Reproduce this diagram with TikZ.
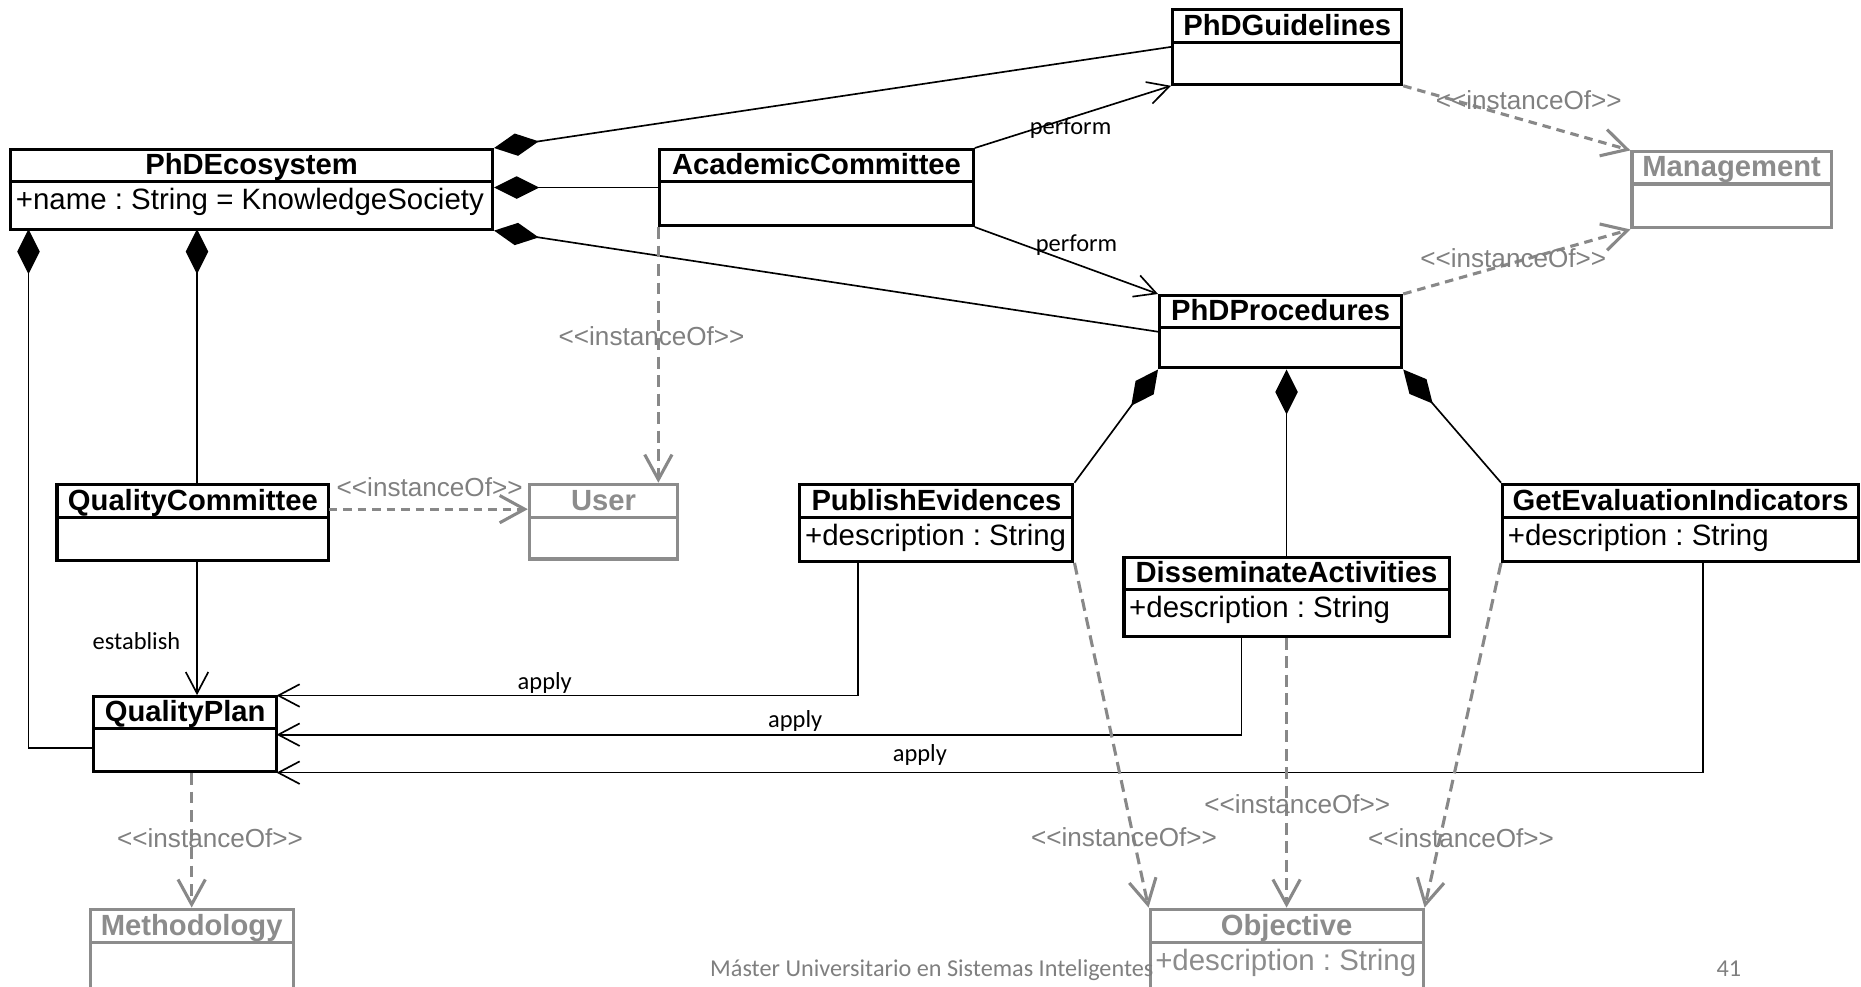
\documentclass[tikz,border=0pt]{standalone}
\usepackage{fontspec}
\setmainfont{Liberation Sans}
\newfontfamily\gillfont{Carlito}
\newfontfamily\ioffont{Liberation Sans}[Ligatures=TeXOff]
\usetikzlibrary{arrows.meta,fit,calc}
\definecolor{boxgray}{HTML}{8C8C8C}
\definecolor{dashgray}{HTML}{888888}
\definecolor{labelgray}{HTML}{808080}
\definecolor{footgray}{HTML}{7F7F7F}
\frenchspacing
\tikzset{
  classbox/.style={rectangle, inner sep=0pt, line width=1.3pt},
  sepline/.style={line width=1.3pt},
  titletext/.style={font=\bfseries\fontsize{12.3}{14}\selectfont, anchor=base, inner sep=0pt},
  attrtext/.style={font=\fontsize{12.4}{14}\selectfont, anchor=base west, inner sep=0pt},
  comp/.style={draw=black, line width=0.7pt, {Diamond[length=19pt,width=9.5pt]}-},
  assoc/.style={draw=black, line width=0.7pt, -{Straight Barb[length=9pt,width=9.5pt]}},
  inst/.style={draw=dashgray, line width=1.3pt, dash pattern=on 5pt off 2.8pt, -{Straight Barb[length=10.5pt,width=11.5pt]}},
  insts/.style={inst, dash pattern=on 3.6pt off 2.5pt},
  lbl/.style={font=\gillfont\fontsize{10.3}{12}\selectfont, anchor=base, inner sep=0pt},
  ioflbl/.style={font=\ioffont\fontsize{11}{13}\selectfont, text=labelgray, anchor=base, inner sep=0pt},
  footer/.style={font=\gillfont\fontsize{10.2}{12}\selectfont, text=footgray, anchor=base west, inner sep=0pt}
}
\newcommand\umlclass[8][black]{%
  \node[classbox, draw=#1, fit={(#3,#4) (#5,#7)}] (#2) {};
  \draw[sepline, draw=#1] (#3,#6) -- (#5,#6);
  \node[titletext, text=#1] (#2-title) at ({(#3+#5)/2},{#6-6}) {#8};
}
\newcommand\umlattr[5][black]{%
  \node[attrtext, text=#1] (#2) at ({#3+4},{#4+23.5}) {#5};
}
\newcommand\iof{<<instanceOf>>}
\begin{document}
\begin{tikzpicture}[x=0.5pt,y=-0.5pt]
\useasboundingbox (0,0) rectangle (1568,831);
% classes
\umlclass{guide}{988}{8}{1181}{36}{71}{PhDGuidelines}
\umlclass[boxgray]{mgmt}{1375}{128}{1543}{155}{192}{Management}
\umlclass{eco}{9}{126}{415}{153}{193}{PhDEcosystem}
\umlattr{eco-attr}{9}{153}{+name : String = KnowledgeSociety}
\umlclass{acad}{556}{126}{820}{153}{190}{AcademicCommittee}
\umlclass{proc}{977}{249}{1181}{276}{310}{PhDProcedures}
\umlclass{qc}{48}{408}{277}{436}{472}{QualityCommittee}
\umlclass[boxgray]{user}{446}{408}{571}{436}{471}{User}
\umlclass{pub}{674}{408}{904}{436}{473}{PublishEvidences}
\umlattr{pub-attr}{674}{436}{+description : String}
\umlclass{gei}{1266}{408}{1566}{436}{473}{GetEvaluationIndicators}
\umlattr{gei-attr}{1266}{436}{+description : String}
\umlclass{dis}{947}{470}{1221}{497}{536}{DisseminateActivities}
\umlattr{dis-attr}{947}{497}{+description : String}
\umlclass{qp}{79}{587}{233}{614}{650}{QualityPlan}
\umlclass[boxgray]{meth}{76}{766}{247}{794}{870}{Methodology}
\umlclass[boxgray]{obj}{969}{766}{1199}{794}{870}{Objective}
\umlattr[boxgray]{obj-attr}{969}{794}{+description : String}
% helper coordinates
\coordinate (ecoL) at (24,193);
\coordinate (qpL) at (79,630);
\coordinate (ecoQ) at (166,193);
\coordinate (qcR) at (277,429);
\coordinate (pubB) at (723,473);
\coordinate (disB) at (1046,536);
\coordinate (geiB) at (1435,473);
\coordinate (qpA1) at (233,586);
\coordinate (qpA2) at (233,619);
\coordinate (qpA3) at (233,651);
% compositions
\draw[comp] (eco.north east) -- (guide.west);
\draw[comp] (eco.east |- acad.west) -- (acad.west);
\draw[comp] (eco.south east) -- (proc.west);
\draw[comp] (ecoL) |- (qpL);
\draw[comp] (ecoQ) -- (ecoQ |- qc.north);
\draw[comp] (proc.south west) -- (pub.north east);
\draw[comp] (dis.north |- proc.south) -- (dis.north);
\draw[comp] (proc.south east) -- (gei.north west);
% associations
\draw[assoc] (acad.north east) -- (guide.south west);
\draw[assoc] (acad.south east) -- (proc.north west);
\draw[assoc] (ecoQ |- qc.south) -- (ecoQ |- qp.north);
\draw[assoc] (pubB) |- (qpA1);
\draw[assoc] (disB) |- (qpA2);
\draw[assoc] (geiB) |- (qpA3);
% instanceOf
\draw[inst] (acad.south west) -- (acad.south west |- user.north);
\draw[insts] (guide.south east) -- (mgmt.north west);
\draw[insts] (proc.north east) -- (mgmt.south west);
\draw[insts] (qcR) -- (qcR -| user.west);
\draw[inst] (pub.south east) -- (obj.north west);
\draw[inst] (dis.south) -- (dis.south |- obj.north);
\draw[inst] (gei.south west) -- (obj.north east);
\draw[inst] (meth.north |- qp.south) -- (meth.north);
% labels
\node[lbl] (lperf1) at (902,113.5) {perform};
\node[lbl] (lperf2) at (907,212) {perform};
\node[lbl] (lest) at (115,547) {establish};
\node[lbl] (lapp1) at (459,581) {apply};
\node[lbl] (lapp2) at (670,613) {apply};
\node[lbl] (lapp3) at (775,642) {apply};
\node[ioflbl] (i1) at (549,291) {\iof};
\node[ioflbl] (i2) at (1288,92) {\iof};
\node[ioflbl] (i3) at (1275,225) {\iof};
\node[ioflbl] (i4) at (362,418) {\iof};
\node[ioflbl] (i5) at (177,714) {\iof};
\node[ioflbl] (i6) at (947,713) {\iof};
\node[ioflbl] (i7) at (1093,685) {\iof};
\node[ioflbl] (i8) at (1231,714) {\iof};
% footer
\node[footer] (foot) at (598,823) {Máster Universitario en Sistemas Inteligentes};
\node[footer] (page) at (1446,823) {41};
\end{tikzpicture}
\end{document}
